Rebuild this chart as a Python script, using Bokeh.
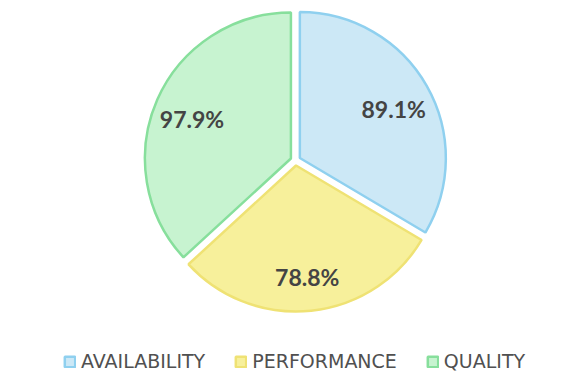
import math
from bokeh.plotting import figure
from bokeh.models import ColumnDataSource, Legend, LegendItem
from bokeh.core.properties import value
from bokeh.embed import file_html
from bokeh.resources import INLINE

categories = ["AVAILABILITY", "PERFORMANCE", "QUALITY"]
values = [89.1, 78.8, 97.9]
labels = ["89.1%", "78.8%", "97.9%"]
fills = ["#cce8f6", "#f7f09b", "#c7f3d0"]
strokes = ["#8fd0ef", "#efe274", "#87df9c"]

W, H = 582, 384
cx, cy = 295.0, 224.0
R = 146.0
explode = 5.0
label_r = 108.0
label_dy = -4.0

total = sum(values)
starts, ends, xs, ys, lx, ly = [], [], [], [], [], []
cum = 0.0
for v in values:
    a0 = math.pi / 2 - cum / total * 2 * math.pi
    cum += v
    a1 = math.pi / 2 - cum / total * 2 * math.pi
    mid = (a0 + a1) / 2
    starts.append(a0)
    ends.append(a1)
    x0 = cx + explode * math.cos(mid)
    y0 = cy + explode * math.sin(mid)
    xs.append(x0)
    ys.append(y0)
    lx.append(x0 + label_r * math.cos(mid))
    ly.append(y0 + label_r * math.sin(mid) + label_dy)

src = ColumnDataSource(dict(x=xs, y=ys, start=starts, end=ends, fill=fills,
                            line=strokes, cat=categories, lx=lx, ly=ly, lab=labels))

p = figure(width=W, height=H, x_range=(0, W), y_range=(0, H),
           output_backend="svg", toolbar_location=None, min_border=0)
p.axis.visible = False
p.grid.visible = False
p.outline_line_color = None
p.background_fill_color = "white"
p.border_fill_color = "white"

renderers = []
for i in range(len(values)):
    r = p.wedge(x=xs[i], y=ys[i], radius=R, start_angle=starts[i], end_angle=ends[i],
                direction="clock", fill_color=fills[i], line_color=strokes[i], line_width=2.5)
    renderers.append(r)

p.text(x="lx", y="ly", text="lab", source=src, text_align="center", text_baseline="middle",
       text_font=value("Lato"), text_font_style="bold", text_font_size="23px",
       text_color="#444444")

legend = Legend(items=[LegendItem(label=categories[i], renderers=[renderers[i]]) for i in range(3)],
                orientation="horizontal", location=(63, 12),
                label_text_font="DejaVu Sans", label_text_font_size="19px",
                label_text_color="#505050", label_text_font_style="normal",
                glyph_width=13, glyph_height=13, label_standoff=5, spacing=29,
                padding=0, border_line_color=None, background_fill_alpha=0)
p.add_layout(legend, "center")

open("out.html", "w").write(file_html(p, INLINE))
